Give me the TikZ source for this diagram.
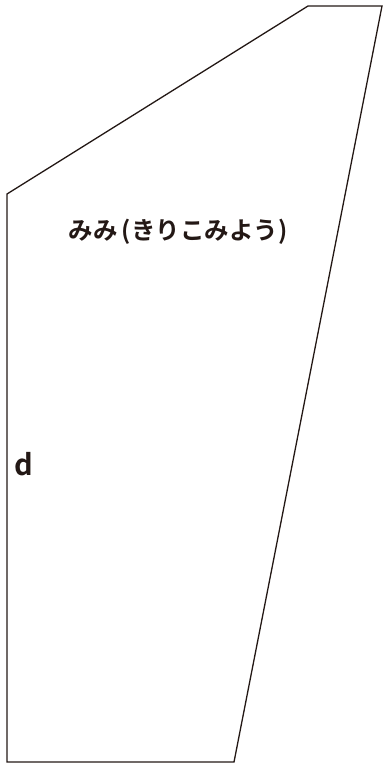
\documentclass[tikz,border=0pt]{standalone}
\usepackage{fontspec}
\newfontfamily\cjk{Noto Sans CJK JP Bold}
\newfontfamily\latin{Noto Sans CJK JP Bold}
\definecolor{ink}{HTML}{231815}

\begin{document}
\begin{tikzpicture}[x=1pt,y=-1pt]
    \useasboundingbox (0,0) rectangle (384,767);

    % Outline of the ear piece
    \draw[ink, line width=1.3pt, line join=miter]
        (7,194) -- (308,6) -- (382,6) -- (234,762) -- (7,762) -- cycle;

    % Labels
    \node[ink, font=\cjk\fontsize{24.5}{24.5}\selectfont, inner sep=0pt] (title) at (178,232) {みみ\,(きりこみよう)};
    \node[ink, font=\latin\fontsize{29}{29}\selectfont, inner sep=0pt, anchor=base] (side) at (24,475) {d};
\end{tikzpicture}
\end{document}
